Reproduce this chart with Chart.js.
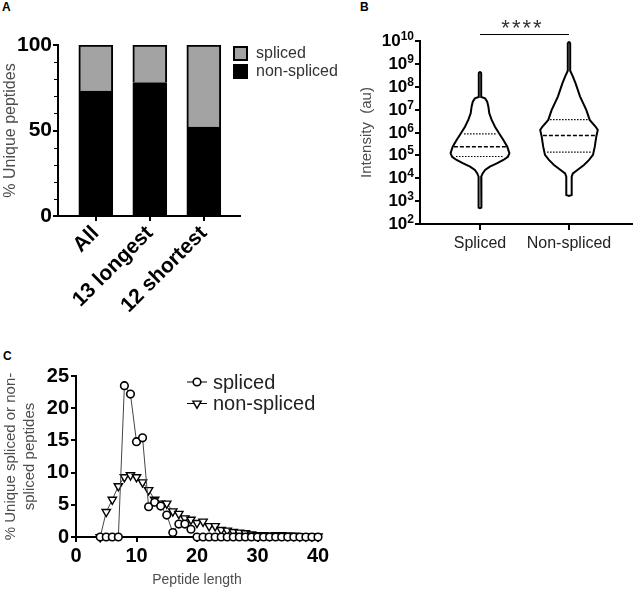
<!DOCTYPE html>
<html>
<head>
<meta charset="utf-8">
<script src="https://cdn.jsdelivr.net/npm/chart.js@4.4.1/dist/chart.umd.min.js"></script>
<style>
  body { margin: 0; background: #fff; width: 634px; height: 589px; position: relative; overflow: hidden;
         font-family: 'Liberation Sans', Arial, sans-serif; }
  canvas { position: absolute; }
  .tag { position: absolute; font-weight: bold; font-size: 12px; color: #000; }
</style>
</head>
<body>
<div class="tag" style="left:2px;top:0px">A</div>
<div class="tag" style="left:360px;top:0px">B</div>
<div class="tag" style="left:3px;top:349px">C</div>
<canvas id="chartA" width="350" height="340" style="left:0;top:0"></canvas>
<canvas id="chartB" width="324" height="340" style="left:310px;top:0"></canvas>
<canvas id="chartC" width="420" height="249" style="left:0;top:340px"></canvas>
<script>
// panel A: % of unique peptides
var groups = ['All', '13 longest', '12 shortest'];
var nonSplicedPct = [73, 78, 52];
var splicedPct = [27, 22, 48];
var yTicksA = [0, 50, 100];
var yMinorA = [10, 20, 30, 40, 60, 70, 80, 90];

// panel B: intensity violins (log10 level, relative width)
var violinGroups = ['Spliced', 'Non-spliced'];
var splicedLog = [8.66, 8.6, 7.55, 7.49, 7.35, 7.13, 6.84, 6.55, 6.25, 5.96, 5.67, 5.38, 5.09, 4.94, 4.80, 4.65, 4.51, 4.36, 4.21, 4.07, 3.5, 3.2, 2.72, 2.69];
var splicedDensity = [0, 0.04, 0.04, 0.17, 0.24, 0.28, 0.31, 0.39, 0.5, 0.64, 0.78, 0.91, 0.98, 0.93, 0.78, 0.56, 0.33, 0.17, 0.09, 0.04, 0.06, 0.04, 0.04, 0];
var nonSplicedLog = [9.97, 9.9, 8.7, 8.44, 8.15, 7.57, 6.98, 6.55, 6.25, 6.11, 5.82, 5.38, 5.02, 4.80, 4.58, 4.36, 4.21, 4.07, 3.27, 3.23];
var nonSplicedDensity = [0, 0.04, 0.04, 0.13, 0.22, 0.37, 0.58, 0.69, 0.89, 0.96, 0.91, 0.86, 0.8, 0.67, 0.5, 0.28, 0.13, 0.09, 0.09, 0];
var splicedQuartLog = [4.95, 5.38, 5.94];       // Q1, median, Q3
var splicedQuartDensity = [0.8, 0.87, 0.53];
var nonSplicedQuartLog = [5.14, 5.87, 6.56];
var nonSplicedQuartDensity = [0.73, 0.87, 0.63];
var decadesB = [2, 3, 4, 5, 6, 7, 8, 9, 10];
var significance = '****';

// panel C: length distribution
var peptideLength = [4,5,6,7,8,9,10,11,12,13,14,15,16,17,18,19,20,21,22,23,24,25,26,27,28,29,30,31,32,33,34,35,36,37,38,39,40];
var splicedDist = [0,0,0,0,23.5,22.2,14.8,15.4,4.7,5.4,4.8,3.4,0.7,2.0,2.0,1.2,0,0,0,0,0,0,0,0,0,0,0,0,0,0,0,0,0,0,0,0,0];
var nonSplicedDist = [0,3.9,5.8,7.9,9.3,9.6,9.3,8.5,7.3,5.8,5.2,5.2,4.0,3.6,2.9,2.7,2.2,2.4,1.7,1.7,1.1,1.0,0.8,0.7,0.6,0.4,0.3,0.3,0.2,0.3,0.3,0.2,0.2,0.1,0.1,0.1,0.1];
var xTicksC = [0, 10, 20, 30, 40];
var yTicksC = [0, 5, 10, 15, 20, 25];

var FONT = "'Liberation Sans', Arial, sans-serif";
Chart.defaults.font.family = FONT;
Chart.defaults.color = '#000';
Chart.defaults.animation = false;

var axisGrid = { drawOnChartArea: false, tickLength: 5, color: '#000', lineWidth: 2 };
var axisBorder = { color: '#000', width: 2 };

function setTicks(list) {
  return function (s) { s.ticks = list.map(function (v) { return { value: v }; }); };
}

// ---------- A ----------
var legendA = {
  id: 'legendA',
  afterDraw: function (chart) {
    var ctx = chart.ctx;
    var items = chart.data.datasets.slice().reverse();
    var x = chart.chartArea.right - 7, y = chart.chartArea.top + 1;
    ctx.save();
    ctx.font = '16px ' + FONT;
    ctx.textBaseline = 'middle';
    items.forEach(function (ds, i) {
      var yy = y + i * 18;
      ctx.fillStyle = ds.backgroundColor;
      ctx.fillRect(x, yy, 15, 15);
      ctx.strokeStyle = '#000';
      ctx.lineWidth = 2;
      ctx.strokeRect(x + 1, yy + 1, 13, 13);
      ctx.fillStyle = '#333';
      ctx.fillText(ds.label, x + 23, yy + 8);
    });
    ctx.restore();
  }
};
var minorTicksA = {
  id: 'minorTicksA',
  afterDraw: function (chart) {
    var ctx = chart.ctx, s = chart.scales.y, left = chart.chartArea.left;
    ctx.save();
    ctx.strokeStyle = '#000';
    ctx.lineWidth = 1;
    yMinorA.forEach(function (v) {
      var y = Math.round(s.getPixelForValue(v)) + 0.5;
      ctx.beginPath(); ctx.moveTo(left - 4, y); ctx.lineTo(left, y); ctx.stroke();
    });
    ctx.restore();
  }
};

new Chart(document.getElementById('chartA'), {
  type: 'bar',
  data: {
    datasets: [
      { label: 'non-spliced', data: groups.map(function (g, i) { return { x: i + 1, y: nonSplicedPct[i] }; }),
        backgroundColor: '#000', borderColor: '#000', borderWidth: 2, barThickness: 34 },
      { label: 'spliced', data: groups.map(function (g, i) { return { x: i + 1, y: splicedPct[i] }; }),
        backgroundColor: '#a3a3a3', borderColor: '#000', borderWidth: 2, barThickness: 34 }
    ]
  },
  options: {
    responsive: false, devicePixelRatio: 1,
    layout: { padding: { left: 0, top: 45, right: 110, bottom: 0 } },
    plugins: { legend: { display: false }, tooltip: { enabled: false } },
    scales: {
      x: {
        type: 'linear', stacked: true, min: 0.3, max: 3.67, offset: false,
        afterFit: function (s) { s.height = 124; },
        afterBuildTicks: setTicks([1, 2, 3]),
        ticks: { autoSkip: false, callback: function (v) { return groups[v - 1]; }, minRotation: 45, maxRotation: 45,
                 font: { size: 21, weight: 'bold' }, color: '#000', padding: 0 },
        grid: Object.assign({}, axisGrid, { offset: false }), border: axisBorder
      },
      y: {
        stacked: true, min: 0, max: 100,
        afterFit: function (s) { s.width = 58; },
        afterBuildTicks: setTicks(yTicksA),
        ticks: { font: { size: 21, weight: 'bold' }, color: '#000', padding: 1 },
        grid: axisGrid, border: axisBorder,
        title: { display: true, text: '% Unique peptides', color: '#4d4d4d', font: { size: 16 }, padding: { top: 1, bottom: 0 } }
      }
    }
  },
  plugins: [legendA, minorTicksA]
});

// ---------- B ----------
var HALF = 0.337; // half width (x units) of density 1
function violin(center, logs, dens) {
  var right = logs.map(function (l, i) { return { x: center + dens[i] * HALF, y: Math.pow(10, l) }; });
  var left = logs.map(function (l, i) { return { x: center - dens[i] * HALF, y: Math.pow(10, l) }; }).reverse();
  return right.concat(left);
}
function quartLine(center, l, d) {
  return [{ x: center - d * HALF, y: Math.pow(10, l) }, { x: center + d * HALF, y: Math.pow(10, l) }];
}
function outline(data) {
  return { type: 'line', data: data, borderColor: '#000', borderWidth: 2, pointRadius: 0, fill: false, tension: 0 };
}
function dash(data, pattern, w) {
  return { type: 'line', data: data, borderColor: '#000', borderWidth: w, borderDash: pattern, pointRadius: 0, fill: false };
}

// "10" with a raised exponent for each decade tick
var expLabelsB = {
  id: 'expLabelsB',
  afterDraw: function (chart) {
    var ctx = chart.ctx, s = chart.scales.y, right = chart.chartArea.left - 6;
    ctx.save();
    ctx.fillStyle = '#000';
    ctx.textAlign = 'right';
    ctx.textBaseline = 'alphabetic';
    s.ticks.forEach(function (t) {
      var e = String(Math.round(Math.log10(t.value)));
      var y = s.getPixelForValue(t.value);
      ctx.font = 'bold 12px ' + FONT;
      var ew = ctx.measureText(e).width;
      ctx.fillText(e, right, y - 1);
      ctx.font = 'bold 17px ' + FONT;
      ctx.fillText('10', right - ew, y + 5);
    });
    ctx.restore();
  }
};

var sigB = {
  id: 'sigB',
  afterDraw: function (chart) {
    var ctx = chart.ctx, x = chart.scales.x;
    var x1 = x.getPixelForValue(1), x2 = x.getPixelForValue(2);
    ctx.save();
    ctx.strokeStyle = '#000';
    ctx.lineWidth = 1;
    ctx.beginPath(); ctx.moveTo(x1, 34.5); ctx.lineTo(x2, 34.5); ctx.stroke();
    ctx.fillStyle = '#333';
    ctx.font = '22px ' + FONT;
    if ('letterSpacing' in ctx) ctx.letterSpacing = '2px';
    ctx.textAlign = 'center';
    ctx.textBaseline = 'alphabetic';
    ctx.fillText(significance, (x1 + x2) / 2 - 2, 35);
    ctx.restore();
  }
};

var dsB = [
  outline(violin(1, splicedLog, splicedDensity)),
  outline(violin(2, nonSplicedLog, nonSplicedDensity))
];
[[1, splicedQuartLog, splicedQuartDensity], [2, nonSplicedQuartLog, nonSplicedQuartDensity]].forEach(function (v) {
  v[1].forEach(function (l, i) {
    dsB.push(i === 1 ? dash(quartLine(v[0], l, v[2][i]), [4, 2], 1.5) : dash(quartLine(v[0], l, v[2][i]), [1.5, 1.5], 1.2));
  });
});

new Chart(document.getElementById('chartB'), {
  type: 'line',
  data: { datasets: dsB },
  options: {
    responsive: false, devicePixelRatio: 1,
    layout: { padding: { left: 0, top: 41, right: 2, bottom: 0 } },
    plugins: { legend: { display: false }, tooltip: { enabled: false } },
    scales: {
      x: {
        type: 'linear', min: 0.326, max: 2.708,
        afterFit: function (s) { s.height = 116; },
        afterBuildTicks: setTicks([1, 2]),
        ticks: { autoSkip: false, maxRotation: 0, callback: function (v) { return violinGroups[v - 1]; },
                 font: { size: 16 }, color: '#222', padding: 4 },
        grid: Object.assign({}, axisGrid, { tickLength: 6 }), border: axisBorder
      },
      y: {
        type: 'logarithmic', min: 1e2, max: 1e10,
        afterFit: function (s) { s.width = 110; },
        afterBuildTicks: setTicks(decadesB.map(function (e) { return Math.pow(10, e); })),
        ticks: { display: false },
        grid: axisGrid, border: axisBorder,
        title: { display: true, text: 'Intensity  (au)', color: '#4d4d4d', font: { size: 15 }, padding: { top: 48, bottom: 0 } }
      }
    }
  },
  plugins: [sigB, expLabelsB]
});

// ---------- C ----------
var legendC = {
  id: 'legendC',
  afterDraw: function (chart) {
    var ctx = chart.ctx;
    ctx.save();
    ctx.font = '20px ' + FONT;
    ctx.textBaseline = 'middle';
    chart.data.datasets.forEach(function (ds, i) {
      var y = 42 + i * 21.5, cx = 197;
      ctx.strokeStyle = '#000';
      ctx.lineWidth = 1;
      ctx.beginPath(); ctx.moveTo(cx - 10, y); ctx.lineTo(cx + 10, y); ctx.stroke();
      ctx.fillStyle = '#fff';
      ctx.lineWidth = ds.pointBorderWidth;
      Chart.helpers.drawPoint(ctx, { pointStyle: ds.pointStyle, radius: ds.pointRadius, rotation: ds.pointRotation || 0, borderWidth: ds.pointBorderWidth }, cx, y);
      ctx.fillStyle = '#222';
      ctx.fillText(ds.label, cx + 16, y + 1);
    });
    ctx.restore();
  }
};

new Chart(document.getElementById('chartC'), {
  type: 'line',
  data: {
    datasets: [
      { label: 'spliced', data: peptideLength.map(function (x, i) { return { x: x, y: splicedDist[i] }; }),
        borderColor: '#444', borderWidth: 1, pointStyle: 'circle', pointRadius: 3.8, pointBorderWidth: 1.6,
        pointBorderColor: '#000', pointBackgroundColor: '#fff', tension: 0, clip: false },
      { label: 'non-spliced', data: peptideLength.map(function (x, i) { return { x: x, y: nonSplicedDist[i] }; }),
        borderColor: '#444', borderWidth: 1, pointStyle: 'triangle', pointRotation: 180, pointRadius: 4.8, pointBorderWidth: 1.4,
        pointBorderColor: '#000', pointBackgroundColor: '#fff', tension: 0, clip: false }
    ]
  },
  options: {
    responsive: false, devicePixelRatio: 1,
    layout: { padding: { left: 0, top: 36, right: 102, bottom: 0 } },
    plugins: { legend: { display: false }, tooltip: { enabled: false } },
    scales: {
      x: {
        type: 'linear', min: 0, max: 40,
        afterFit: function (s) { s.height = 52; },
        afterBuildTicks: setTicks(xTicksC),
        ticks: { maxRotation: 0, font: { size: 20, weight: 'bold' }, color: '#000', padding: 2 },
        grid: axisGrid, border: axisBorder,
        title: { display: true, text: 'Peptide length', color: '#4d4d4d', font: { size: 14 }, padding: { top: 4, bottom: 0 } }
      },
      y: {
        min: 0, max: 25,
        afterFit: function (s) { s.width = 76; },
        afterBuildTicks: setTicks(yTicksC),
        ticks: { font: { size: 20, weight: 'bold' }, color: '#000', padding: 2 },
        grid: axisGrid, border: axisBorder,
        title: { display: true, text: ['% Unique spliced or non-', 'spliced peptides'], color: '#4d4d4d',
                 font: { size: 15, lineHeight: 1.3 }, padding: { top: 1, bottom: 0 } }
      }
    }
  },
  plugins: [legendC]
});
</script>
</body>
</html>
